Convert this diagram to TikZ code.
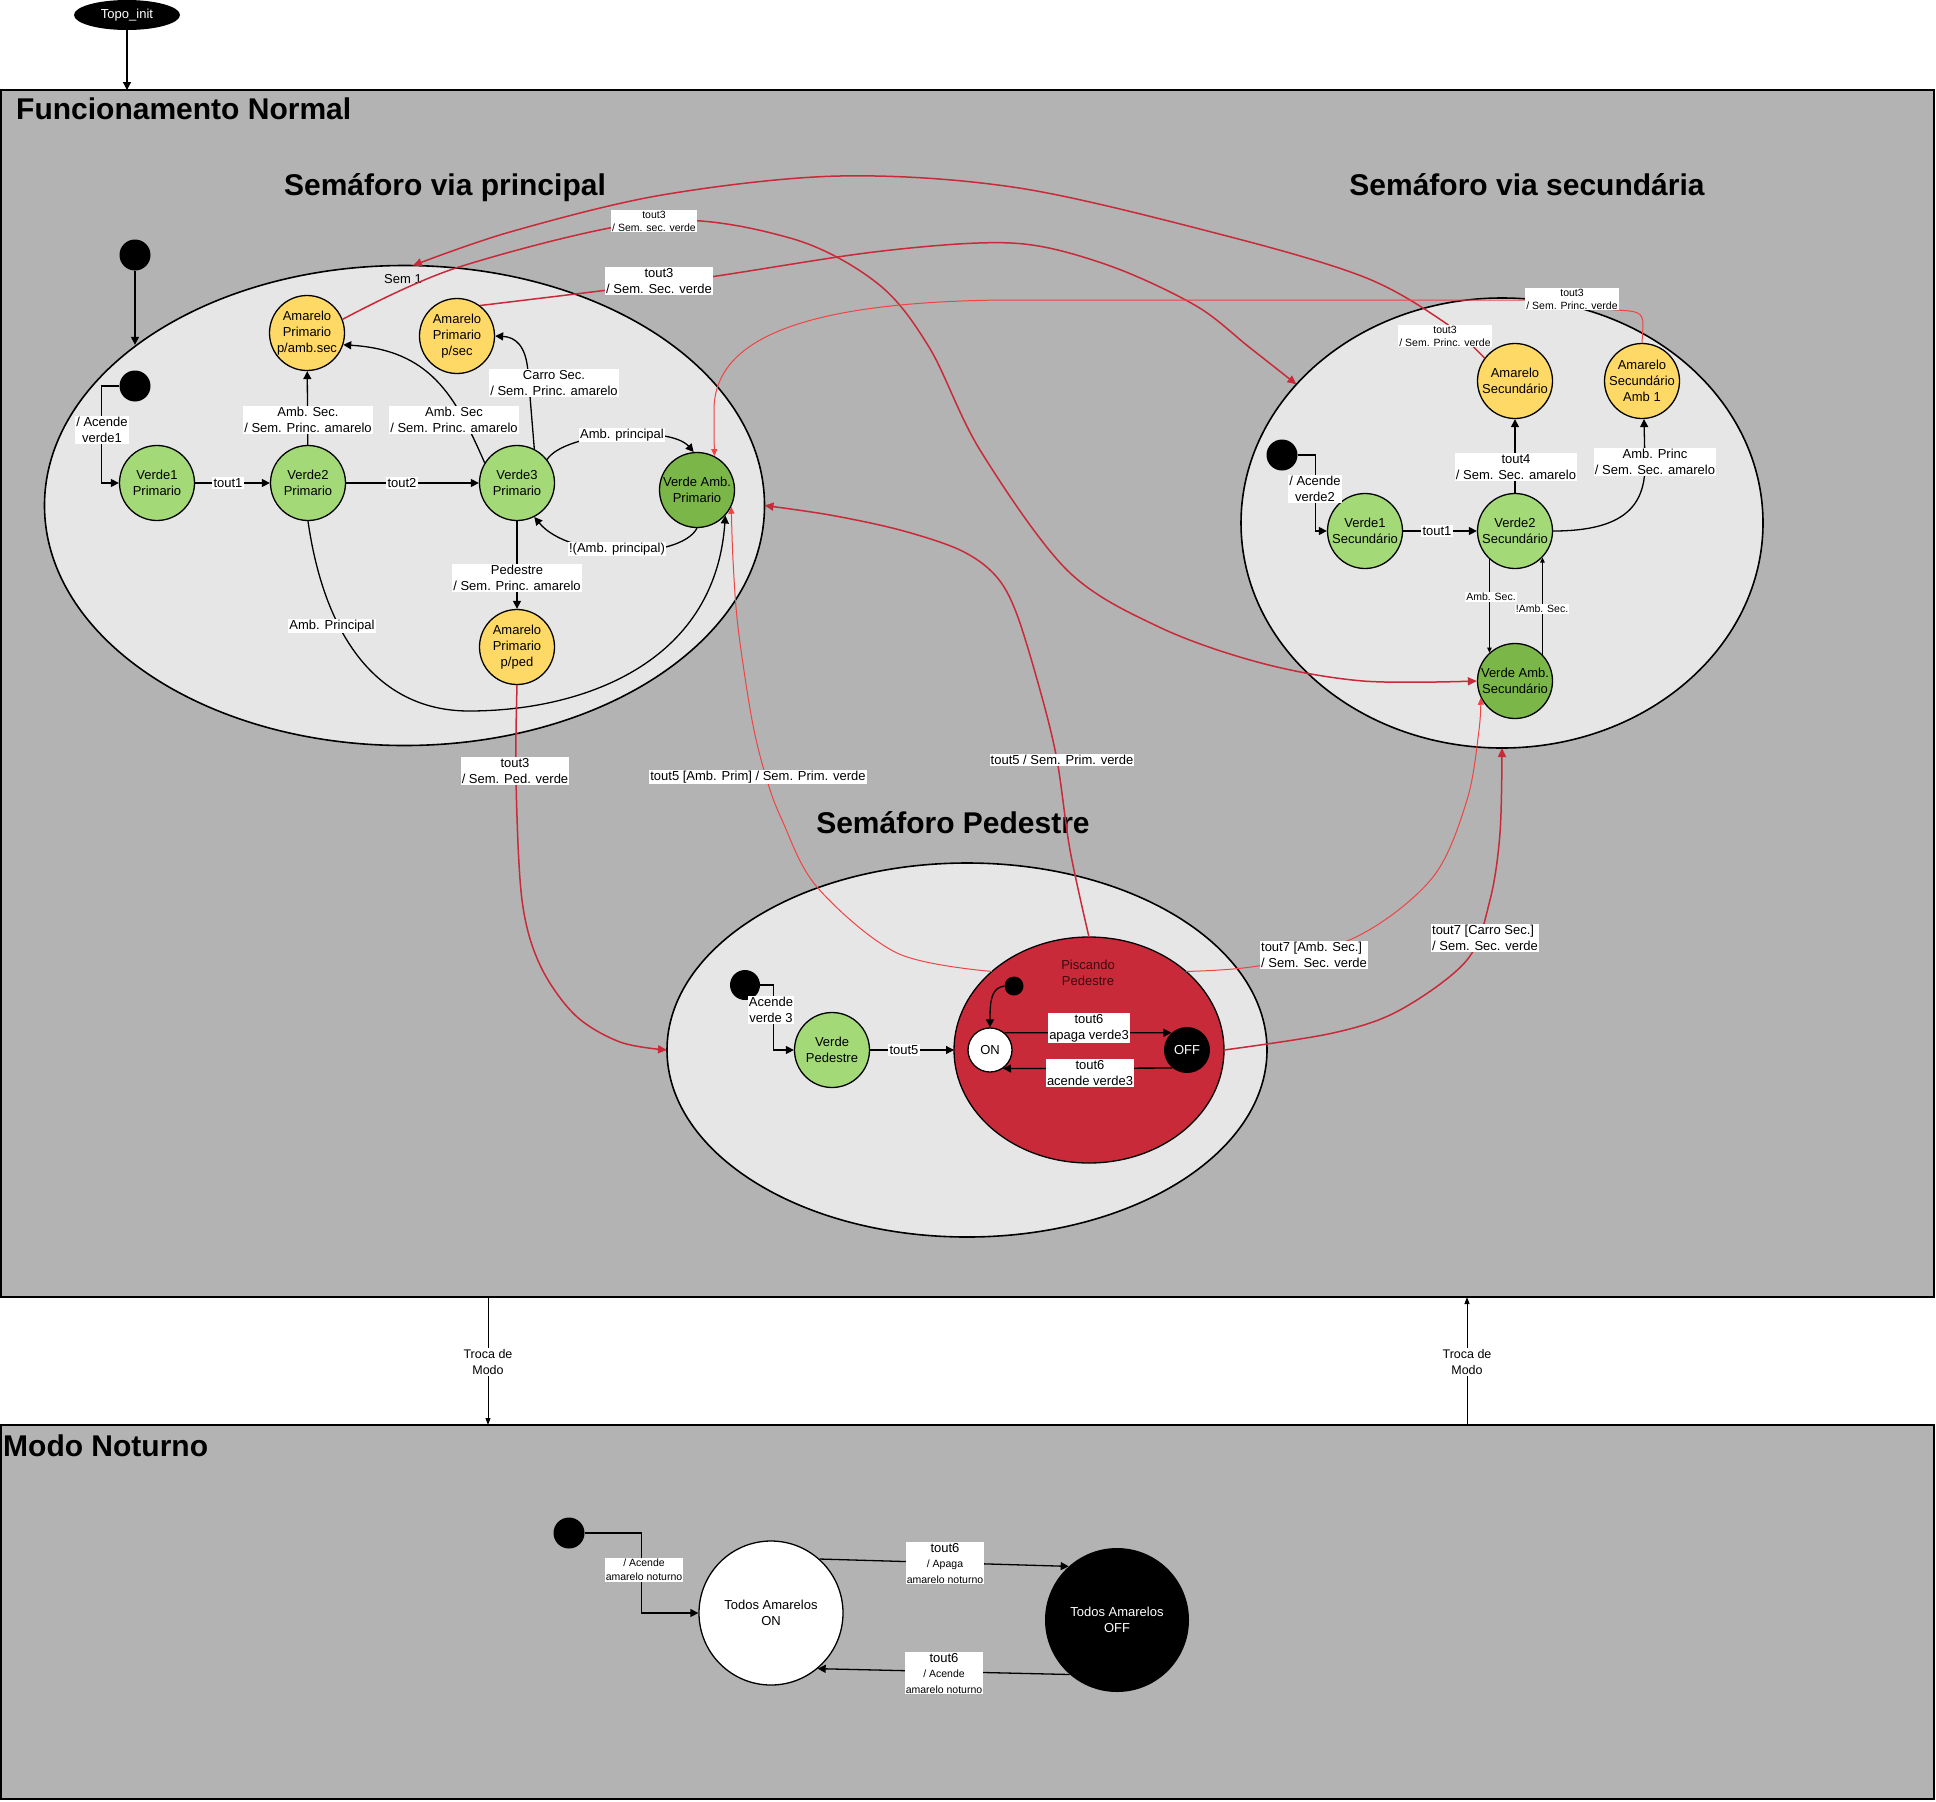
\documentclass[tikz,border=0pt]{standalone}
\usepackage{fontspec}
\setmainfont{Liberation Sans}
\usetikzlibrary{arrows.meta,shapes.geometric}
\definecolor{framegray}{HTML}{B3B3B3}
\definecolor{ellgray}{HTML}{E6E6E6}
\definecolor{lgreen}{HTML}{A3D977}
\definecolor{dgreen}{HTML}{7AB648}
\definecolor{yell}{HTML}{FFD966}
\definecolor{piscred}{HTML}{C92A39}
\definecolor{redline}{HTML}{C92A39}
\definecolor{redlite}{HTML}{EE4444}
\definecolor{pisctext}{HTML}{3A0A0E}
\begin{document}
\begin{tikzpicture}[x=1pt,y=-1pt,
  frm/.style={rectangle, draw, line width=1.3pt, fill=framegray, inner sep=0, outer sep=0},
  ttl/.style={font=\fontsize{30}{36}\selectfont\bfseries, inner sep=0},
  st/.style={circle, draw, line width=1.3pt, minimum size=75pt, inner sep=-6pt, align=center, font=\fontsize{13}{16}\selectfont},
  lg/.style={fill=lgreen}, dg/.style={fill=dgreen}, yl/.style={fill=yell},
  bigell/.style={ellipse, draw, line width=1.6pt, fill=ellgray, inner sep=0, outer sep=0},
  initdot/.style={circle, fill=black, inner sep=0, minimum size=31pt},
  arr/.style={line width=1.3pt, -{Triangle[length=8pt,width=8pt]}},
  arrsm/.style={line width=1pt, -{Triangle[length=5pt,width=4.5pt]}},
  arrtm/.style={line width=1pt, -{Triangle[length=7pt,width=5pt]}},
  redthick/.style={draw=redline, line width=1.5pt, -{Triangle[length=9pt,width=8pt]}},
  redthin/.style={draw=redlite, line width=1pt, -{Triangle[length=7pt,width=6pt]}},
  lbl/.style={fill=white, inner sep=1.2pt, align=center, font=\fontsize{13}{16}\selectfont},
  lbll/.style={fill=white, inner sep=1.2pt, align=left, font=\fontsize{13}{16}\selectfont},
  slbl/.style={fill=white, inner sep=1pt, align=center, font=\fontsize{10.5}{13}\selectfont},
  txt/.style={inner sep=0, align=center, font=\fontsize{13}{16}\selectfont}
]
\useasboundingbox (0,0) rectangle (1936,1802);
\fill[white] (0,0) rectangle (1936,1802);

% ---------- frames and titles
\node[frm, minimum width=1933pt, minimum height=1207pt, anchor=north west] (fn) at (1,90) {};
\node[frm, minimum width=1933pt, minimum height=374pt, anchor=north west] (mn) at (1,1425) {};
\node[ttl, anchor=base west] (tfn) at (16,119.5) {Funcionamento Normal};
\node[ttl, anchor=base west] (tmn) at (3,1456) {Modo Noturno};
\node[ttl, anchor=base] (tsp) at (445,195) {Semáforo via principal};
\node[ttl, anchor=base] (tss) at (1527,195) {Semáforo via secundária};
\node[ttl, anchor=base] (tpd) at (953,833) {Semáforo Pedestre};

\node[ellipse, fill=black, text=white, minimum width=106pt, minimum height=30pt, inner sep=0, font=\fontsize{13}{16}\selectfont] (topo) at (127,15) {Topo\_init};

% ---------- composite states
\node[bigell, minimum width=720pt, minimum height=480pt] (sem1) at (404.5,505.5) {};
\node[txt] (sem1lbl) at (403,279) {Sem 1};
\node[bigell, minimum width=522pt, minimum height=450pt] (sec) at (1502,523) {};
\node[bigell, minimum width=600pt, minimum height=374pt] (ped) at (967,1050) {};
\node[ellipse, draw, line width=1.3pt, fill=piscred, minimum width=270pt, minimum height=226pt, inner sep=0, outer sep=0] (pisc) at (1089,1050) {};
\node[txt, text=pisctext] (pisclbl) at (1088,973) {Piscando\\Pedestre};

% ---------- principal
\node[initdot] (i1) at (135,255) {};
\node[initdot] (i2) at (135,386) {};
\node[st, lg] (v1p) at (157,483) {Verde1\\Primario};
\node[st, lg] (v2p) at (308,483) {Verde2\\Primario};
\node[st, lg] (v3p) at (517,483) {Verde3\\Primario};
\node[st, dg] (vap) at (697,490) {Verde Amb.\\Primario};
\node[st, yl] (ap1) at (307,333) {Amarelo\\Primario\\p/amb.sec};
\node[st, yl] (ap2) at (457,336) {Amarelo\\Primario\\p/sec};
\node[st, yl] (ap3) at (517,647) {Amarelo\\Primario\\p/ped};

% ---------- secundaria
\node[initdot] (is) at (1282,455) {};
\node[st, lg] (v1s) at (1365,531) {Verde1\\Secundário};
\node[st, lg] (v2s) at (1515,531) {Verde2\\Secundário};
\node[st, dg] (vas) at (1515,681) {Verde Amb.\\Secundário};
\node[st, yl] (as) at (1515,381) {Amarelo\\Secundário};
\node[st, yl] (as1) at (1642,381) {Amarelo\\Secundário\\Amb 1};

% ---------- pedestre
\node[initdot, minimum size=30pt] (ip) at (745,985) {};
\node[st, lg] (vp) at (832,1050) {Verde\\Pedestre};
\node[initdot, minimum size=19pt] (ipp) at (1014,986) {};
\node[circle, draw, line width=1.3pt, fill=white, minimum size=44pt, inner sep=0, font=\fontsize{13}{16}\selectfont] (on) at (990,1050) {ON};
\node[circle, fill=black, text=white, minimum size=46pt, inner sep=0, font=\fontsize{13}{16}\selectfont] (off) at (1187,1050) {OFF};

% ---------- noturno
\node[initdot] (in) at (569,1533) {};
\node[circle, draw, line width=1.3pt, fill=white, minimum size=144pt, inner sep=0, align=center, font=\fontsize{13}{16}\selectfont] (ton) at (771,1613) {Todos Amarelos\\ON};
\node[circle, fill=black, text=white, minimum size=144pt, inner sep=0, align=center, font=\fontsize{13}{16}\selectfont] (toff) at (1117,1620) {Todos Amarelos\\OFF};

% ---------- black connectors
\draw[arr] (topo) -- (topo |- fn.north);
\coordinate (tm1) at (488,0);
\coordinate (tm2) at (1467,0);
\draw[arrtm] (fn.south -| tm1) -- (mn.north -| tm1);
\draw[arrtm] (mn.north -| tm2) -- (fn.south -| tm2);

\draw[arr] (i1) -- (i1 |- sem1.149);
\draw[arr] (i2.west) -- ++(-18,0) |- (v1p);
\draw[arr] (v1p) -- (v2p);
\draw[arr] (v2p) -- (v3p);
\draw[arr] (v2p) -- (ap1);
\draw[arr] (v3p.148) .. controls (455,395) and (430,350) .. (ap1.-18);
\draw[arr] (v3p.63) -- (528,372) .. controls (526,345) and (515,337) .. (ap2.east);
\draw[arr] (v3p.38) .. controls (565,432) and (670,425) .. (vap.95);
\draw[arr] (vap.south) .. controls (680,560) and (570,560) .. (v3p.-63);
\draw[arr] (v3p) -- (ap3);
\draw[arr] (v2p.south) .. controls (325,640) and (380,711) .. (469,711) .. controls (580,711) and (715,665) .. (vap.-42);

\draw[arr] (is.east) -- ++(17.5,0) |- (v1s);
\draw[arr] (v1s) -- (v2s);
\draw[arr] (v2s) -- (as);
\draw[arr] (v2s.east) .. controls (1625,531) and (1645,505) .. (1645,465) -- (as1.-87);
\draw[arrsm] (v2s.-132) -- (vas.132);
\draw[arrsm] (vas.44) -- (v2s.-44);

\draw[arr] (ip.east) -- ++(13,0) |- (vp);
\draw[arr] (vp) -- (pisc);
\draw[arr] (ipp.west) .. controls (992,988) and (990,998) .. (on.north);
\draw[arr] (on.50) -- (off.132);
\draw[arr] (off.-129) -- (on.-55);

\draw[arr] (in.east) -- ++(56.5,0) |- (ton);
\draw[arr] (ton.48) -- (toff.132);
\draw[arr] (toff.-131) -- (ton.-50);

% ---------- red connectors
\draw[redthick] plot[smooth, tension=0.55] coordinates {(as.143) (1444,322) (1364,277) (1223,235) (1019,188) (840,176) (662,195) (510,232) (sem1.88)};
\draw[redthick] plot[smooth, tension=0.55] coordinates {(ap1.21) (459,267) (655,221) (790,238) (877,283) (929,347) (980,450) (1067,570) (1159,627) (1261,663) (1363,681) (vas.west)};
\draw[redthick] plot[smooth, tension=0.55] coordinates {(ap2.53) (608,290) (710,277) (866,253) (978,243) (1044,247) (1121,270) (1198,307) (1249,347) (sec.146)};
\draw[redthin] (as1.north) -- (1643,325) .. controls (1643,312) and (1638,311) .. (1615,310) -- (1530,300) -- (1004,300) .. controls (800,302) and (714,340) .. (714,410) -- (vap.63);
\draw[redthin] plot[smooth, tension=0.55] coordinates {(pisc.141) (897,953) (817,887) (782,820) (766,777) (752,720) (738,627) (733,560) (vap.-26)};
\draw[redthick] plot[smooth, tension=0.55] coordinates {(pisc.north) (1070,850) (1057,760) (1040,690) (1016,612) (995,575) (960,550) (900,530) (830,515) (sem1.east)};
\draw[redthin] plot[smooth, tension=0.55] coordinates {(pisc.39) (1263,965) (1360,935) (1433,877) (1467,800) (1479,730) (vas.-154)};
\draw[redthick] plot[smooth, tension=0.55] coordinates {(pisc.east) (1333,1033) (1400,1010) (1467,960) (1490,900) (1500,833) (sec.south)};
\draw[redthick] plot[smooth, tension=0.55] coordinates {(ap3.south) (516,780) (522,900) (540,965) (575,1015) (620,1042) (ped.west)};

% ---------- labels
\node[lbl, font=\fontsize{12.5}{15.7}\selectfont] (ltm1) at (488,1362) {Troca de\\Modo};
\node[lbl, font=\fontsize{12.5}{15.7}\selectfont] (ltm2) at (1467,1362) {Troca de\\Modo};

\node[lbl] (l1) at (102,430) {/ Acende\\verde1};
\node[lbl] (l2) at (228,483) {tout1};
\node[lbl] (l3) at (402,483) {tout2};
\node[lbl] (l4) at (308,420) {Amb. Sec.\\/ Sem. Princ. amarelo};
\node[lbl] (l5) at (454,420) {Amb. Sec\\/ Sem. Princ. amarelo};
\node[lbl] (l6) at (554,383) {Carro Sec.\\/ Sem. Princ. amarelo};
\node[lbl] (l7) at (622,435) {Amb. principal};
\node[lbl] (l8) at (617,549) {!(Amb. principal)};
\node[lbl] (l9) at (517,578) {Pedestre\\/ Sem. Princ. amarelo};
\node[lbl] (l10) at (332,626) {Amb. Principal};

\node[lbl] (l11) at (1315,489) {/ Acende\\verde2};
\node[lbl] (l12) at (1437,531) {tout1};
\node[lbl] (l13) at (1516,467) {tout4\\/ Sem. Sec. amarelo};
\node[lbl] (l14) at (1655,462) {Amb. Princ\\/ Sem. Sec. amarelo};
\node[slbl] (l15) at (1491,597) {Amb. Sec.};
\node[slbl] (l16) at (1542,609) {!Amb. Sec.};

\node[lbl] (l17) at (771,1010) {Acende\\verde 3};
\node[lbl] (l18) at (904,1050) {tout5};
\node[lbl] (l19) at (1089,1028) {tout6\\apaga verde3};
\node[lbl] (l20) at (1090,1073) {tout6\\acende verde3};

\node[slbl, font=\fontsize{10.5}{14}\selectfont] (l21) at (644,1570) {/ Acende\\amarelo noturno};
\node[slbl, font=\fontsize{10.5}{15.5}\selectfont] (l22) at (945,1563) {\fontsize{13}{15.5}\selectfont tout6\\\fontsize{10.5}{15.5}\selectfont / Apaga\\amarelo noturno};
\node[slbl, font=\fontsize{10.5}{15.5}\selectfont] (l23) at (944,1673) {\fontsize{13}{15.5}\selectfont tout6\\\fontsize{10.5}{15.5}\selectfont / Acende\\amarelo noturno};

\node[slbl] (r1) at (1445,336) {tout3\\/ Sem. Princ. verde};
\node[slbl] (r2) at (654,221) {tout3\\/ Sem. sec. verde};
\node[lbl] (r3) at (659,281) {tout3\\/ Sem. Sec. verde};
\node[slbl] (r4) at (1572,299) {tout3\\/ Sem. Princ. verde};
\node[lbl] (r5) at (758,777) {tout5 [Amb. Prim] / Sem. Prim. verde};
\node[lbl] (r6) at (1062,760) {tout5 / Sem. Prim. verde};
\node[lbll] (r7) at (1314,955) {tout7 [Amb. Sec.]\\/ Sem. Sec. verde};
\node[lbll] (r8) at (1485,938) {tout7 [Carro Sec.]\\/ Sem. Sec. verde};
\node[lbl] (r9) at (515,771) {tout3\\/ Sem. Ped. verde};
\end{tikzpicture}
\end{document}
